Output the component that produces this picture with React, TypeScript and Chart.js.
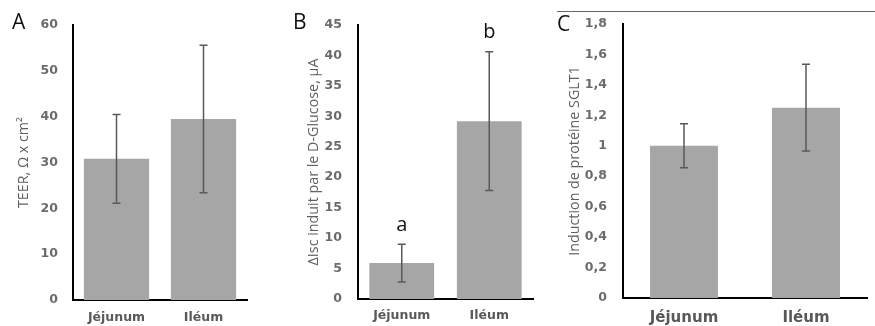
import React, { useEffect, useRef } from "react";
import { Chart, registerables } from "chart.js";
Chart.register(...registerables);

// ---- data ----
const categories = ["Jéjunum", "Iléum"];

const teerMeans = [30.8, 39.5];
const teerErrors = [9.7, 16.1];

const iscMeans = [5.9, 29.2];
const iscErrors = [3.1, 11.4];
const iscLetters = ["a", "b"];

const sgltMeans = [1.0, 1.25];
const sgltErrors = [0.145, 0.285];

const panelLetters = ["A", "B", "C"];
const yTitles = ["TEER, Ω x cm²", "ΔIsc induit par le D-Glucose, µA", "Induction de protéine SGLT1"];

const BAR = "#a6a6a6";
const ERR = "#595959";
const TICK = "#6b6b6b";
const TITLE = "#5f5f5f";

const annotPlugin = {
  id: "annot",
  afterDatasetsDraw(chart: any, _args: any, opts: any) {
    const ctx = chart.ctx;
    const meta = chart.getDatasetMeta(0);
    const ys = chart.scales.y;
    const data = chart.data.datasets[0].data as number[];
    ctx.save();
    ctx.strokeStyle = ERR;
    ctx.lineWidth = 1.5;
    meta.data.forEach((bar: any, i: number) => {
      const v = data[i];
      const e = opts.errors[i];
      const top = ys.getPixelForValue(v + e);
      const bot = ys.getPixelForValue(v - e);
      const x = bar.x;
      ctx.beginPath();
      ctx.moveTo(x, top);
      ctx.lineTo(x, bot);
      ctx.moveTo(x - 4, top);
      ctx.lineTo(x + 4, top);
      ctx.moveTo(x - 4, bot);
      ctx.lineTo(x + 4, bot);
      ctx.stroke();
      if (opts.letters && opts.letters[i]) {
        ctx.fillStyle = "#111";
        ctx.font = "20px 'Open Sans'";
        ctx.textAlign = "center";
        ctx.textBaseline = "alphabetic";
        ctx.fillText(opts.letters[i], x, top - 13.5);
      }
    });
    ctx.fillStyle = "#111";
    ctx.font = "21px 'Open Sans'";
    ctx.textAlign = "left";
    ctx.textBaseline = "alphabetic";
    ctx.fillText(opts.panel, opts.panelX, opts.panelY);
    ctx.restore();
  },
};

type PanelProps = {
  left: number;
  width: number;
  means: number[];
  errors: number[];
  letters?: string[];
  max: number;
  step: number;
  comma?: boolean;
  title: string;
  panel: string;
  panelX: number;
  panelY: number;
  axisW: number;
  padTop: number;
  padRight: number;
  xH: number;
  tickPad: number;
  titlePad: number;
  barPct: number;
  xFont: number;
  xPad: number;
};

function Panel(p: PanelProps) {
  const ref = useRef<HTMLCanvasElement | null>(null);
  useEffect(() => {
    if (!ref.current) return;
    const chart = new Chart(ref.current, {
      type: "bar",
      data: {
        labels: categories,
        datasets: [
          {
            data: p.means,
            backgroundColor: BAR,
            borderWidth: 0,
            categoryPercentage: 1,
            barPercentage: p.barPct,
          },
        ],
      },
      plugins: [annotPlugin],
      options: {
        animation: false,
        responsive: false,
        devicePixelRatio: 1,
        layout: { padding: { top: p.padTop, right: p.padRight, left: 0, bottom: 0 } },
        plugins: {
          legend: { display: false },
          tooltip: { enabled: false },
          annot: {
            errors: p.errors,
            letters: p.letters,
            panel: p.panel,
            panelX: p.panelX,
            panelY: p.panelY,
          },
        } as any,
        scales: {
          x: {
            grid: { display: false, drawTicks: false },
            border: { display: true, color: "#000", width: 2 },
            ticks: {
              color: "#595959",
              font: { family: "'DejaVu Sans'", size: p.xFont, weight: "bold" },
              padding: p.xPad,
            },
            afterFit: (s: any) => {
              s.height = p.xH;
            },
          },
          y: {
            min: 0,
            max: p.max,
            grid: { display: false, drawTicks: false },
            border: { display: true, color: "#000", width: 2 },
            ticks: {
              stepSize: p.step,
              color: TICK,
              padding: p.tickPad,
              font: { family: "'DejaVu Sans'", size: 12.5, weight: "bold" },
              callback: (v: any) => {
                const n = Number(Number(v).toFixed(2));
                return p.comma ? String(n).replace(".", ",") : String(n);
              },
            },
            title: {
              display: true,
              text: p.title,
              color: TITLE,
              font: { family: "'Open Sans'", size: 14.3, lineHeight: 1.2 },
              padding: { top: p.titlePad, bottom: 0 },
            },
            afterFit: (s: any) => {
              s.width = p.axisW;
            },
          },
        },
      } as any,
    });
    return () => chart.destroy();
  }, []);
  return (
    <canvas
      ref={ref}
      width={p.width}
      height={326}
      style={{ position: "absolute", left: p.left, top: 0, width: p.width, height: 326 }}
    />
  );
}

export default function App() {
  return (
    <div
      style={{
        position: "fixed",
        left: 0,
        top: 0,
        width: 875,
        height: 326,
        background: "#fff",
        overflow: "hidden",
      }}
    >
      <Panel
        left={0}
        width={290}
        means={teerMeans}
        errors={teerErrors}
        max={60}
        step={10}
        title={yTitles[0]}
        panel={panelLetters[0]}
        panelX={12}
        panelY={29}
        axisW={73}
        padTop={25}
        padRight={43}
        xH={26}
        tickPad={15}
        titlePad={15.4}
        barPct={0.75}
        xFont={12.5}
        xPad={10}
      />
      <Panel
        left={290}
        width={265}
        means={iscMeans}
        errors={iscErrors}
        letters={iscLetters}
        max={45}
        step={5}
        title={yTitles[1]}
        panel={panelLetters[1]}
        panelX={3}
        panelY={29}
        axisW={68}
        padTop={25}
        padRight={22}
        xH={27}
        tickPad={16}
        titlePad={15.4}
        barPct={0.74}
        xFont={12.5}
        xPad={9.5}
      />
      <Panel
        left={555}
        width={320}
        means={sgltMeans}
        errors={sgltErrors}
        max={1.8}
        step={0.2}
        comma
        title={yTitles[2]}
        panel={panelLetters[2]}
        panelX={2}
        panelY={31}
        axisW={68}
        padTop={24}
        padRight={8}
        xH={28}
        tickPad={16}
        titlePad={11.4}
        barPct={0.557}
        xFont={15}
        xPad={11}
      />
      <div
        style={{ position: "absolute", left: 557, top: 11, width: 318, height: 1, background: "#666" }}
      />
    </div>
  );
}
